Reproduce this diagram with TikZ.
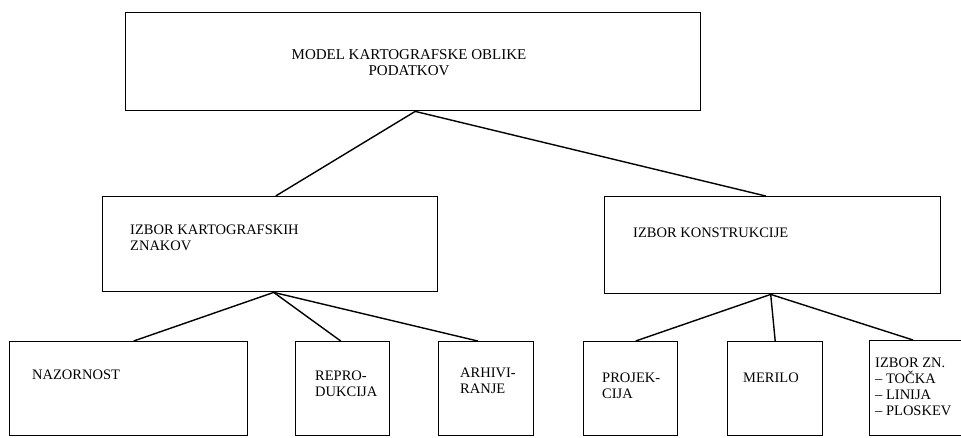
\documentclass[tikz,border=0pt]{standalone}
\usepackage{fontspec}
\setmainfont{Liberation Serif}
\begin{document}
\begin{tikzpicture}[x=1pt,y=-1pt,
  box/.style={draw,line width=1.4pt,rectangle,inner sep=0pt,anchor=north west},
  lbl/.style={anchor=north west,inner sep=0pt,align=left,font=\fontsize{14.5}{16}\selectfont},
  link/.style={line width=1.4pt}]
\clip (0,0) rectangle (961,437);
\fill[white] (0,0) rectangle (961,437);

% boxes
\node[box,minimum width=575pt,minimum height=98pt] (model) at (125,12) {};
\node[box,minimum width=335pt,minimum height=95pt] (kart) at (102,196) {};
\node[box,minimum width=336pt,minimum height=97pt] (kons) at (604,196) {};
\node[box,minimum width=238pt,minimum height=94pt] (naz) at (9,341) {};
\node[box,minimum width=94pt,minimum height=94pt] (rep) at (295,341) {};
\node[box,minimum width=95pt,minimum height=94pt] (arh) at (438,341) {};
\node[box,minimum width=94pt,minimum height=94pt] (proj) at (583,341) {};
\node[box,minimum width=95pt,minimum height=94pt] (mer) at (727,341) {};
\node[box,minimum width=110pt,minimum height=95pt] (izb) at (869,340) {};

% labels
\node[inner sep=0pt,align=center,font=\fontsize{15}{16}\selectfont] (tmodel) at (409,63)
  {MODEL KARTOGRAFSKE OBLIKE\\PODATKOV};
\node[lbl] (tkart) at (130,225) {IZBOR KARTOGRAFSKIH\\ZNAKOV};
\node[lbl] (tkons) at (633,228) {IZBOR KONSTRUKCIJE};
\node[lbl] (tnaz) at (32,370) {NAZORNOST};
\node[lbl] (trep) at (315,371) {REPRO-\\DUKCIJA};
\node[lbl] (tarh) at (460,368) {ARHIVI-\\RANJE};
\node[lbl] (tproj) at (602,373) {PROJEK-\\CIJA};
\node[lbl] (tmer) at (743,373) {MERILO};
\node[lbl] (tizb) at (875,358)
  {IZBOR ZN.\\\textendash\ TOČKA\\\textendash\ LINIJA\\\textendash\ PLOSKEV};

% connectors
\draw[link] ([xshift=2pt]model.south) -- ([xshift=5.5pt]kart.north);
\draw[link] ([xshift=2pt]model.south) -- ([xshift=-7pt]kons.north);
\draw[link] ([xshift=3.5pt]kart.south) -- ([xshift=5pt]naz.north);
\draw[link] ([xshift=3.5pt]kart.south) -- ([xshift=-2pt]rep.north);
\draw[link] ([xshift=3.5pt]kart.south) -- ([xshift=-8.5pt]arh.north);
\draw[link] ([xshift=-2pt]kons.south) -- ([xshift=5pt]proj.north);
\draw[link] ([xshift=-2pt]kons.south) -- (mer.north);
\draw[link] ([xshift=-2pt]kons.south) -- ([xshift=44pt]izb.north west);
\end{tikzpicture}
\end{document}
